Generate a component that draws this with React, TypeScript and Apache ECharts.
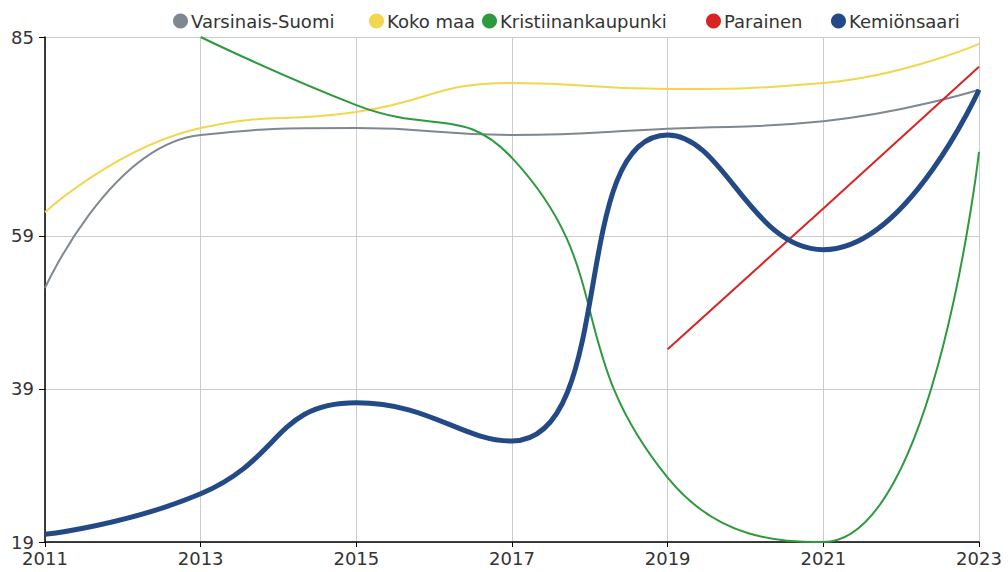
import React, { useEffect, useRef } from "react";
import * as echarts from "echarts";

const years = ["2011", "2013", "2015", "2017", "2019", "2021", "2023"];
const yTicks = [19, 39, 59, 85];
const varsinaisSuomi = [52.2, 72.2, 73.1, 72.2, 73.0, 74.0, 78.1];
const kokoMaa = [62.1, 73.1, 75.2, 79.0, 78.2, 79.0, 84.1];
const kristiinankaupunki = [null, 85, 76.1, 69.2, 27.4, 19, 70];
const parainen = [null, null, null, null, 44.2, 62.6, 81.1];
const kemionsaari = [20.0, 25.3, 37.2, 32.2, 72.2, 57.2, 78.1];

const seriesNames = ["Varsinais-Suomi", "Koko maa", "Kristiinankaupunki", "Parainen", "Kemiönsaari"];
const legendLefts = [173, 369, 482, 706, 831];

const font = "DejaVu Sans";

export default function App() {
  const ref = useRef<HTMLDivElement>(null);
  useEffect(() => {
    const chart = echarts.init(ref.current!, null, { renderer: "svg" });
    const mk = (name: string, data: any[], color: string, width: number, z: number) => ({
      name,
      type: "line",
      data,
      smooth: 0.5,
      showSymbol: false,
      symbol: "circle",
      z,
      lineStyle: { color, width },
      itemStyle: { color },
    });
    chart.setOption({
      animation: false,
      textStyle: { fontFamily: font },
      legend: seriesNames.map((n, i) => ({
        top: 12,
        left: legendLefts[i],
        icon: "circle",
        itemWidth: 15,
        itemHeight: 15,
        itemGap: 0,
        padding: 0,
        textStyle: { fontFamily: font, fontSize: 18, color: "#333", padding: [0, 0, 0, -2] },
        data: [n],
      })),
      grid: { left: 45, right: 29, top: 37, bottom: 30, containLabel: false },
      xAxis: {
        type: "category",
        data: years,
        boundaryGap: false,
        axisLine: { lineStyle: { color: "#000", width: 1.5 } },
        axisTick: { show: true, length: 5, lineStyle: { color: "#000" } },
        axisLabel: { color: "#333", fontSize: 18, fontFamily: font, margin: 7 },
        splitLine: { show: true, lineStyle: { color: "#ccc", width: 1 } },
      },
      yAxis: {
        type: "value",
        min: 19,
        max: 85,
        axisLine: { show: true, lineStyle: { color: "#000", width: 1.5 } },
        axisTick: { show: true, length: 6, customValues: yTicks, lineStyle: { color: "#000" } },
        axisLabel: { customValues: yTicks, color: "#333", fontSize: 18, fontFamily: font, margin: 11 },
        splitLine: { show: true, lineStyle: { color: "#ccc", width: 1 } },
      },
      series: [
        mk(seriesNames[0], varsinaisSuomi, "#7f8791", 2, 2),
        mk(seriesNames[1], kokoMaa, "#f2d650", 2, 2),
        mk(seriesNames[2], kristiinankaupunki, "#2e9a3e", 2, 3),
        mk(seriesNames[3], parainen, "#d92424", 2, 3),
        mk(seriesNames[4], kemionsaari, "#234a86", 5, 4),
      ],
    });
    return () => chart.dispose();
  }, []);
  return <div ref={ref} style={{ position: "absolute", left: 0, top: 0, width: 1008, height: 572 }} />;
}
